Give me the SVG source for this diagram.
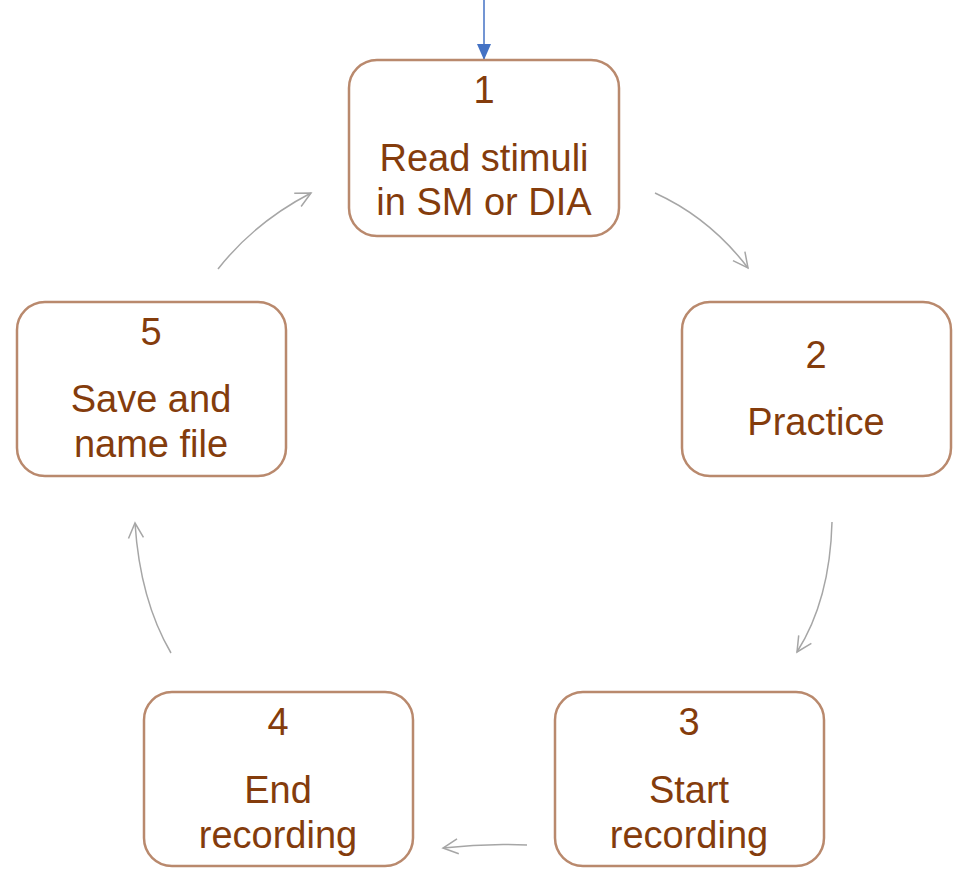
<svg xmlns="http://www.w3.org/2000/svg" width="961" height="872" viewBox="0 0 961 872">
<style>
.box{fill:#fff;stroke:#B9896D;stroke-width:2.5}
.t{font-family:"Liberation Sans",Arial,sans-serif;font-size:38px;fill:#843C0C;text-anchor:middle}
.c{fill:none;stroke:#A6A6A6;stroke-width:1.5}
</style>
<defs>
<marker id="open" viewBox="0 0 20 20" refX="18" refY="10" markerWidth="20" markerHeight="20" markerUnits="userSpaceOnUse" orient="auto">
<path d="M3,2.5 L18,10 L3,17.5" fill="none" stroke="#A6A6A6" stroke-width="1.5"/>
</marker>
<marker id="blue" viewBox="0 0 16 14" refX="16" refY="7" markerWidth="16" markerHeight="14" markerUnits="userSpaceOnUse" orient="auto">
<path d="M0,0 L16,7 L0,14 Z" fill="#4472C4"/>
</marker>
</defs>
<g id="connectors">
<line x1="484" y1="0" x2="484" y2="60" stroke="#4472C4" stroke-width="1.5" marker-end="url(#blue)"/>
<path class="c" d="M655,193 Q710,218 748,268" marker-end="url(#open)"/>
<path class="c" d="M832,522 Q830,600 797,652" marker-end="url(#open)"/>
<path class="c" d="M527,845 Q485,843 443,848" marker-end="url(#open)"/>
<path class="c" d="M171,653 Q140,600 135,523" marker-end="url(#open)"/>
<path class="c" d="M218,269 Q255,222 311,193" marker-end="url(#open)"/>
</g>
<g id="node1">
<rect class="box" x="349" y="60" width="270" height="176" rx="28"/>
<text class="t" x="484" y="103">1</text>
<text class="t" x="484" y="171">Read stimuli</text>
<text class="t" x="484" y="215">in SM or DIA</text>
</g>
<g id="node2">
<rect class="box" x="682" y="302" width="269" height="174" rx="28"/>
<text class="t" x="816" y="368">2</text>
<text class="t" x="816" y="435">Practice</text>
</g>
<g id="node3">
<rect class="box" x="555" y="692" width="269" height="174" rx="28"/>
<text class="t" x="689" y="735">3</text>
<text class="t" x="689" y="803">Start</text>
<text class="t" x="689" y="848">recording</text>
</g>
<g id="node4">
<rect class="box" x="144" y="692" width="269" height="174" rx="28"/>
<text class="t" x="278" y="735">4</text>
<text class="t" x="278" y="803">End</text>
<text class="t" x="278" y="848">recording</text>
</g>
<g id="node5">
<rect class="box" x="17" y="302" width="269" height="174" rx="28"/>
<text class="t" x="151" y="345">5</text>
<text class="t" x="151" y="412">Save and</text>
<text class="t" x="151" y="457">name file</text>
</g>
</svg>
